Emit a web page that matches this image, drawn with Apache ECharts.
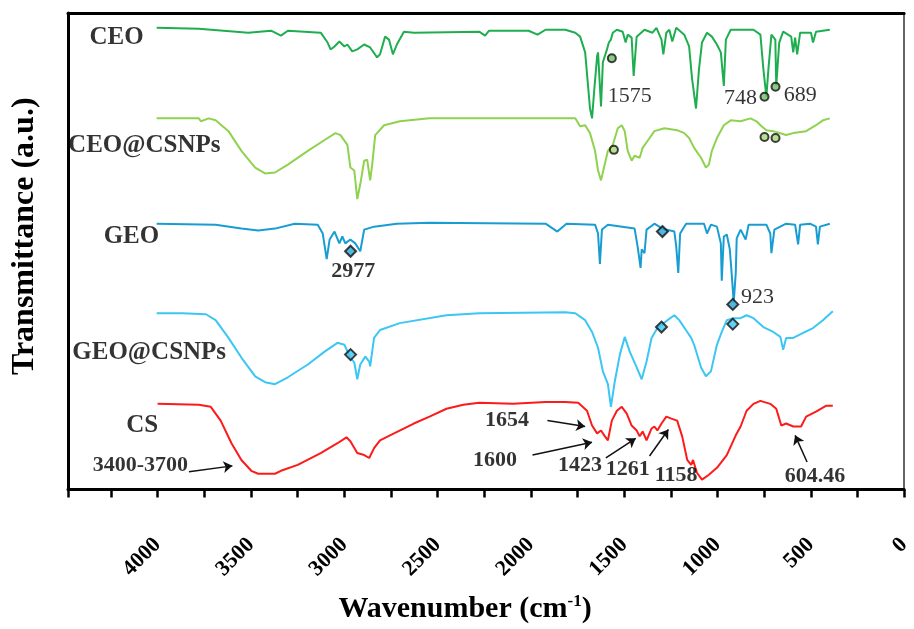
<!DOCTYPE html>
<html>
<head>
<meta charset="utf-8">
<script src="https://cdn.jsdelivr.net/npm/echarts@6/dist/echarts.min.js"></script>
<style>
  html, body { margin: 0; padding: 0; background: #fff; }
  #chart { width: 914px; height: 629px; }
</style>
</head>
<body>
<div id="chart"></div>
<script>
// spectra: [wavenumber (cm-1), transmittance (a.u., stacked)]
const ceo = [[4005,46.9],[3779,46.8],[3514,46.4],[3392,46.6],[3339,46.1],[3302,46.6],[3126,46.4],[3089,45.4],[3073,44.7],[3052,45.0],[3026,45.5],[2999,45.0],[2983,45.2],[2957,44.5],[2930,44.7],[2893,45.2],[2861,44.9],[2824,43.9],[2808,44.2],[2781,46.0],[2760,45.7],[2739,44.2],[2718,45.2],[2680,46.5],[2627,46.4],[2277,46.5],[2245,46.1],[2224,46.6],[2012,46.6],[1964,46.2],[1921,46.7],[1815,46.7],[1762,46.4],[1736,46.0],[1709,44.4],[1683,38.7],[1672,37.7],[1661,40.4],[1645,44.0],[1640,44.4],[1630,41.0],[1624,38.9],[1614,43.4],[1592,44.7],[1582,45.4],[1571,45.7],[1561,46.4],[1539,46.7],[1508,46.5],[1492,45.4],[1481,46.2],[1460,45.9],[1449,42.0],[1433,46.0],[1391,46.7],[1348,46.4],[1327,46.9],[1300,45.7],[1290,44.2],[1274,46.4],[1258,46.7],[1242,45.5],[1221,46.9],[1178,46.2],[1152,45.0],[1136,41.7],[1115,38.7],[1099,42.7],[1083,45.4],[1056,46.4],[1030,46.0],[1003,45.2],[982,44.4],[966,41.0],[955,45.7],[929,46.7],[807,46.7],[770,46.2],[754,42.7],[738,39.9],[727,42.7],[711,46.2],[690,45.7],[685,41.0],[669,45.4],[648,46.5],[605,46.0],[594,44.4],[584,45.9],[573,44.2],[557,46.4],[499,46.4],[488,45.4],[472,46.5],[398,46.7]];

const ceoCsnps = [[4005,37.7],[3779,37.7],[3768,37.4],[3726,37.7],[3689,37.5],[3620,36.4],[3551,34.4],[3477,32.7],[3424,32.1],[3371,32.2],[3302,33.0],[3195,34.4],[3105,35.5],[3047,36.2],[3020,36.0],[2983,35.0],[2967,32.7],[2946,32.4],[2930,29.5],[2914,31.0],[2893,33.4],[2877,33.5],[2861,31.4],[2850,33.0],[2834,36.0],[2786,37.0],[2702,37.4],[2543,37.7],[1815,37.7],[1762,37.7],[1736,36.9],[1709,37.0],[1683,36.2],[1656,34.4],[1640,32.4],[1624,31.4],[1608,32.7],[1587,34.4],[1561,35.0],[1534,36.7],[1513,37.0],[1497,36.4],[1481,34.4],[1460,33.4],[1444,33.9],[1417,33.7],[1401,34.7],[1375,35.4],[1338,36.4],[1285,36.7],[1216,36.5],[1178,36.2],[1152,35.7],[1125,34.7],[1088,33.7],[1062,32.7],[1046,33.0],[1030,34.4],[1003,35.7],[966,37.0],[929,37.5],[876,37.4],[823,37.7],[791,37.4],[764,36.9],[738,36.5],[701,36.4],[632,36.0],[594,36.2],[525,36.4],[472,37.0],[435,37.5],[398,37.7]];

const geo = [[4005,27.0],[3689,26.9],[3551,26.5],[3461,26.3],[3371,26.5],[3265,27.0],[3142,26.9],[3115,26.0],[3094,23.4],[3078,25.4],[3052,26.2],[3026,25.0],[3010,25.7],[2994,25.0],[2967,25.4],[2941,25.0],[2914,24.2],[2893,26.4],[2840,26.7],[2718,27.0],[2543,27.1],[1921,27.0],[1858,26.2],[1809,27.0],[1656,26.9],[1640,26.0],[1630,22.9],[1619,26.4],[1587,26.9],[1444,26.5],[1428,24.7],[1412,22.5],[1406,24.4],[1391,24.0],[1380,26.4],[1338,27.0],[1295,26.5],[1231,26.2],[1221,24.7],[1210,22.0],[1200,26.0],[1168,27.0],[1072,27.0],[1056,26.0],[1035,26.9],[1003,26.7],[982,25.0],[977,21.2],[966,25.7],[950,25.9],[934,24.4],[923,21.7],[913,19.0],[902,22.0],[897,25.5],[876,26.4],[849,25.4],[833,26.9],[738,26.9],[717,26.0],[711,24.0],[695,26.4],[632,27.0],[584,26.9],[568,24.9],[557,26.9],[504,27.0],[472,26.7],[462,24.9],[451,26.7],[398,27.0]];

const geoCsnps = [[4005,17.9],[3868,17.9],[3741,17.8],[3689,17.2],[3620,15.4],[3551,13.4],[3477,11.5],[3424,10.9],[3371,10.7],[3302,11.4],[3195,12.7],[3105,14.0],[3036,14.9],[2999,14.7],[2967,13.4],[2946,12.9],[2930,11.2],[2914,12.7],[2887,13.5],[2866,13.0],[2861,12.5],[2840,15.4],[2808,16.2],[2702,16.9],[2452,17.7],[2277,17.9],[1815,18.0],[1762,17.9],[1709,17.2],[1672,16.0],[1640,14.4],[1614,12.0],[1587,10.7],[1571,8.4],[1550,11.0],[1523,13.7],[1497,15.5],[1470,14.0],[1433,12.4],[1406,11.2],[1380,13.0],[1353,15.4],[1322,16.4],[1268,17.2],[1231,17.7],[1205,17.2],[1162,16.0],[1141,15.4],[1125,14.7],[1088,12.4],[1062,11.5],[1035,12.0],[1003,14.7],[977,16.0],[950,17.2],[913,17.4],[876,17.4],[844,17.7],[807,17.4],[754,16.5],[701,16.0],[663,15.5],[648,14.2],[632,15.4],[594,15.4],[541,15.9],[488,16.4],[435,17.2],[382,18.1]];

const cs = [[4000,8.7],[3779,8.6],[3715,8.4],[3662,7.0],[3604,4.7],[3551,3.0],[3498,1.9],[3461,1.6],[3371,1.6],[3339,1.9],[3249,2.5],[3126,3.7],[3036,4.7],[2988,5.3],[2967,4.9],[2930,3.7],[2893,3.5],[2866,3.2],[2840,4.2],[2808,5.0],[2733,5.7],[2627,6.7],[2543,7.4],[2452,8.2],[2362,8.6],[2277,8.8],[2096,8.7],[1921,8.9],[1815,8.9],[1746,8.8],[1699,8.0],[1672,6.5],[1645,5.7],[1624,6.0],[1603,5.4],[1587,5.0],[1566,7.0],[1539,8.0],[1513,8.4],[1486,7.7],[1460,6.5],[1433,6.0],[1417,5.4],[1401,5.9],[1380,5.0],[1353,6.2],[1338,6.4],[1322,6.0],[1300,6.7],[1274,7.4],[1247,7.2],[1216,7.0],[1189,5.4],[1162,3.0],[1141,2.5],[1131,3.0],[1110,1.7],[1083,1.0],[1046,1.5],[1003,2.2],[950,3.5],[902,5.5],[876,6.4],[844,8.0],[807,8.7],[770,9.0],[717,8.7],[685,8.2],[658,6.5],[632,6.7],[594,6.4],[552,6.4],[525,7.4],[472,7.9],[419,8.5],[382,8.5]];

// marked bands
const ceoMarks = [[1566,43.8],[748,39.9],[689,40.9]];
const ceoCsnpsMarks = [[1555,34.5],[748,35.8],[689,35.7]];
const geoMarks = [[2966,24.2],[1295,26.2],[918,18.8]];
const geoCsnpsMarks = [[2966,13.7],[1300,16.5],[918,16.8]];

// sample names and band labels
const sampleLabels = [
  { value: [4220, 45.9], name: 'CEO' },
  { value: [4071, 34.9], name: 'CEO@CSNPs' },
  { value: [4140, 25.7], name: 'GEO' },
  { value: [4045, 13.9], name: 'GEO@CSNPs' },
  { value: [4082, 6.5], name: 'CS' }
];
const plainBands = [
  { value: [1470, 39.9], name: '1575' },
  { value: [876, 39.7], name: '748' },
  { value: [557, 40.0], name: '689' },
  { value: [786, 19.5], name: '923' }
];
const boldBands = [
  { value: [2951, 22.2], name: '2977' },
  { value: [2128, 7.0], name: '1654' },
  { value: [2192, 3.0], name: '1600' },
  { value: [1736, 2.5], name: '1423' },
  { value: [1481, 2.0], name: '1261' },
  { value: [1221, 1.4], name: '1158' },
  { value: [478, 1.3], name: '604.46' },
  { value: [4092, 2.5], name: '3400-3700' }
];
const arrows = [
  [[3832, 1.8], [3599, 2.4]],
  [[1911, 7.0], [1709, 6.4]],
  [[1991, 3.5], [1672, 4.8]],
  [[1598, 3.2], [1438, 5.2]],
  [[1364, 3.4], [1263, 6.1]],
  [[520, 2.8], [584, 5.5]]
];

const FONT = 'Liberation Serif';

function spectrum(name, data, color) {
  return {
    name: name, type: 'line', data: data, showSymbol: false,
    lineStyle: { color: color, width: 2 }, z: 2, silent: true
  };
}
function marks(data, symbol, size, color) {
  return {
    type: 'scatter', data: data, symbol: symbol, symbolSize: size, z: 5, silent: true,
    itemStyle: { color: color, borderColor: '#111', borderWidth: 2 }
  };
}
function texts(data, size, weight) {
  return {
    type: 'scatter', data: data, symbolSize: 1, z: 6, silent: true,
    itemStyle: { color: 'rgba(0,0,0,0)' },
    label: {
      show: true, position: 'inside', formatter: '{b}', color: '#000',
      fontFamily: FONT, fontSize: size, fontWeight: weight
    }
  };
}

const csSeries = spectrum('CS', cs, '#fb1b1b');
csSeries.markLine = {
  silent: true, animation: false,
  symbol: ['none', 'arrow'], symbolSize: 9,
  label: { show: false },
  lineStyle: { color: '#111', width: 1.5, type: 'solid' },
  data: arrows.map(a => [{ coord: a[0] }, { coord: a[1] }])
};

const chart = echarts.init(document.getElementById('chart'));
chart.setOption({
  animation: false,
  backgroundColor: '#fff',
  grid: { left: 68, right: 2, top: 13, bottom: 132, containLabel: false },
  xAxis: [{
    type: 'value', min: 0, max: 4480, interval: 250, inverse: true,
    axisLine: { show: true, onZero: false, lineStyle: { color: '#000', width: 3 } },
    axisTick: { show: true, length: 8, lineStyle: { color: '#000', width: 2.5 } },
    splitLine: { show: false },
    axisLabel: {
      rotate: 45, margin: 52, color: '#000', fontFamily: FONT, fontWeight: 'bold', fontSize: 22,
      formatter: v => (v % 500 === 0 ? String(v) : '')
    },
    name: 'Wavenumber (cm{sup|-1})',
    nameLocation: 'middle', nameGap: 104,
    nameTextStyle: {
      color: '#000', fontFamily: FONT, fontWeight: 'bold', fontSize: 30, padding: [0, 42, 0, 0],
      rich: { sup: { fontFamily: FONT, fontWeight: 'bold', fontSize: 17, verticalAlign: 'top', padding: [0, 0, 14, 0] } }
    }
  }, {
    type: 'value', position: 'top', min: 0, max: 4480, inverse: true,
    axisLine: { show: true, onZero: false, lineStyle: { color: '#000', width: 3 } },
    axisTick: { show: false }, axisLabel: { show: false }, splitLine: { show: false }
  }],
  yAxis: [{
    type: 'value', min: 0, max: 48.4,
    axisLine: { show: true, onZero: false, lineStyle: { color: '#000', width: 3 } },
    axisTick: { show: false }, axisLabel: { show: false }, splitLine: { show: false },
    name: 'Transmittance (a.u.)', nameLocation: 'middle', nameRotate: 90, nameGap: 27,
    nameTextStyle: { color: '#000', fontFamily: FONT, fontWeight: 'bold', fontSize: 32, padding: [0, 0, 0, 30] }
  }, {
    type: 'value', position: 'right', min: 0, max: 48.4,
    axisLine: { show: true, onZero: false, lineStyle: { color: '#333', width: 1.5 } },
    axisTick: { show: false }, axisLabel: { show: false }, splitLine: { show: false }
  }],
  series: [
    spectrum('CEO', ceo, '#1fae4f'),
    spectrum('CEO@CSNPs', ceoCsnps, '#8fd24f'),
    spectrum('GEO', geo, '#189dd3'),
    spectrum('GEO@CSNPs', geoCsnps, '#3cc6f3'),
    csSeries,
    marks(ceoMarks, 'circle', 8, '#6fbf6a'),
    marks(ceoCsnpsMarks, 'circle', 8, '#a8d87a'),
    marks(geoMarks, 'diamond', 11, '#2aa3d6'),
    marks(geoCsnpsMarks, 'diamond', 11, '#3cc6f3'),
    texts(sampleLabels, 25, 'bold'),
    texts(plainBands, 22, 'normal'),
    texts(boldBands, 22, 'bold')
  ]
});
</script>
</body>
</html>
